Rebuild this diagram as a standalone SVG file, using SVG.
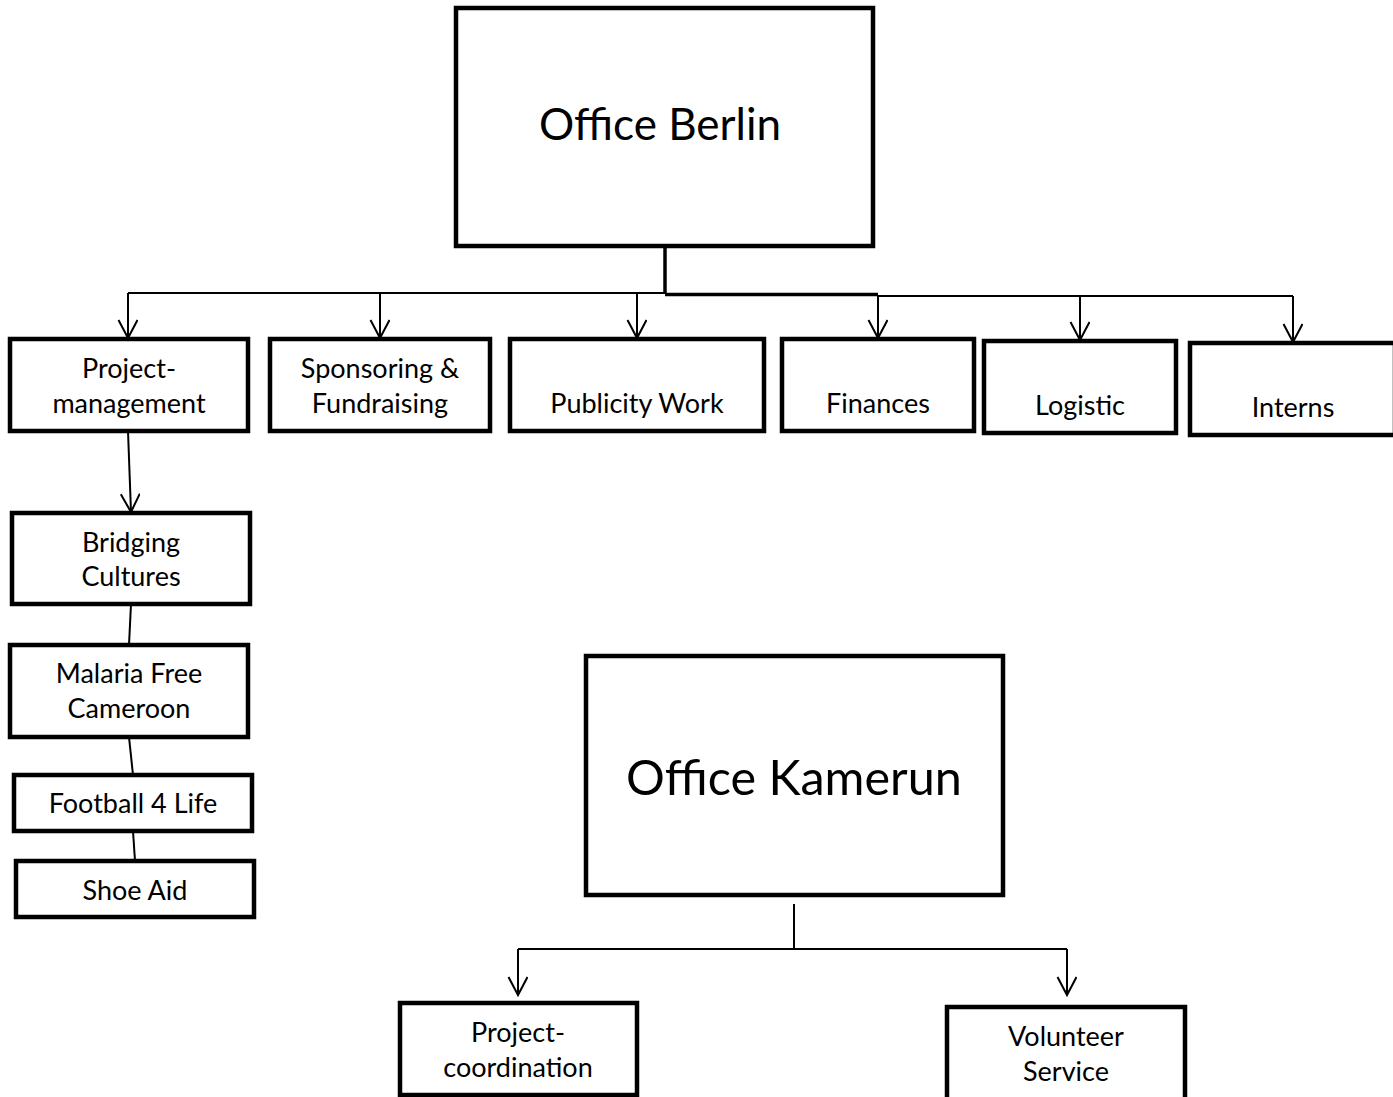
<svg xmlns="http://www.w3.org/2000/svg" width="1393" height="1097" viewBox="0 0 1393 1097">
<style>
.box{fill:#fff;stroke:#000;stroke-width:4.5}
.t{font-family:Lato,"Liberation Sans",sans-serif;font-size:27px;fill:#000;text-anchor:middle}
.big{font-family:Lato,"Liberation Sans",sans-serif;font-size:44px;fill:#000;text-anchor:middle}
.c{stroke:#000;stroke-width:2;fill:none}
.ct{stroke:#000;stroke-width:3.5;fill:none}
</style>
<defs>
<marker id="arr" markerWidth="24" markerHeight="24" refX="19" refY="10" orient="auto" markerUnits="userSpaceOnUse" viewBox="0 0 24 24">
<path d="M1,0.5 L19,10 L1,19.5" fill="none" stroke="#000" stroke-width="2"/>
</marker>
</defs>
<g id="connectors">
<path class="ct" d="M665,246 V294"/>
<path class="c" d="M128,293 H665"/>
<path class="ct" d="M665,294.5 H878"/>
<path class="c" d="M878,296 H1293"/>
<path class="c" d="M128,293 V338" marker-end="url(#arr)"/>
<path class="c" d="M380,293 V338" marker-end="url(#arr)"/>
<path class="c" d="M637,293 V338" marker-end="url(#arr)"/>
<path class="c" d="M878,295 V338" marker-end="url(#arr)"/>
<path class="c" d="M1080,296 V340" marker-end="url(#arr)"/>
<path class="c" d="M1293,296 V342" marker-end="url(#arr)"/>
<path class="c" d="M128,431 L131,512" marker-end="url(#arr)"/>
<path class="c" d="M131,604 L129,645"/>
<path class="c" d="M129,737 L133,775"/>
<path class="c" d="M133,831 L135,861"/>
<path class="c" d="M794,904 V949"/>
<path class="c" d="M518,949 H1067"/>
<path class="c" d="M518,949 V995" marker-end="url(#arr)"/>
<path class="c" d="M1067,949 V995" marker-end="url(#arr)"/>
</g>
<g id="office-berlin"><rect class="box" x="456" y="8" width="417" height="238"/><text class="big" x="660" y="140">Office Berlin</text></g>
<g id="project-management"><rect class="box" x="10" y="339" width="238" height="92"/><text class="t" x="129" y="378">Project-</text><text class="t" x="129" y="413">management</text></g>
<g id="sponsoring"><rect class="box" x="270" y="339" width="220" height="92"/><text class="t" x="380" y="378">Sponsoring &amp;</text><text class="t" x="380" y="413">Fundraising</text></g>
<g id="publicity"><rect class="box" x="510" y="339" width="254" height="92"/><text class="t" x="637" y="413">Publicity Work</text></g>
<g id="finances"><rect class="box" x="782" y="339" width="192" height="92"/><text class="t" x="878" y="413">Finances</text></g>
<g id="logistic"><rect class="box" x="984" y="341" width="192" height="92"/><text class="t" x="1080" y="415">Logistic</text></g>
<g id="interns"><rect class="box" x="1190" y="343" width="205" height="92"/><text class="t" x="1293" y="417">Interns</text></g>
<g id="bridging-cultures"><rect class="box" x="12" y="513" width="238" height="91"/><text class="t" x="131" y="552">Bridging</text><text class="t" x="131" y="586">Cultures</text></g>
<g id="malaria"><rect class="box" x="10" y="645" width="238" height="92"/><text class="t" x="129" y="683">Malaria Free</text><text class="t" x="129" y="718">Cameroon</text></g>
<g id="football"><rect class="box" x="14" y="775" width="238" height="56"/><text class="t" x="133" y="813">Football 4 Life</text></g>
<g id="shoe-aid"><rect class="box" x="16" y="861" width="238" height="56"/><text class="t" x="135" y="900">Shoe Aid</text></g>
<g id="office-kamerun"><rect class="box" x="586" y="656" width="417" height="239"/><text class="big" x="794" y="795" style="font-size:48.5px">Office Kamerun</text></g>
<g id="project-coordination"><rect class="box" x="400" y="1003" width="237" height="92"/><text class="t" x="518" y="1042">Project-</text><text class="t" x="518" y="1077">coordination</text></g>
<g id="volunteer"><rect class="box" x="947" y="1007" width="238" height="94"/><text class="t" x="1066" y="1046">Volunteer</text><text class="t" x="1066" y="1081">Service</text></g>
</svg>
